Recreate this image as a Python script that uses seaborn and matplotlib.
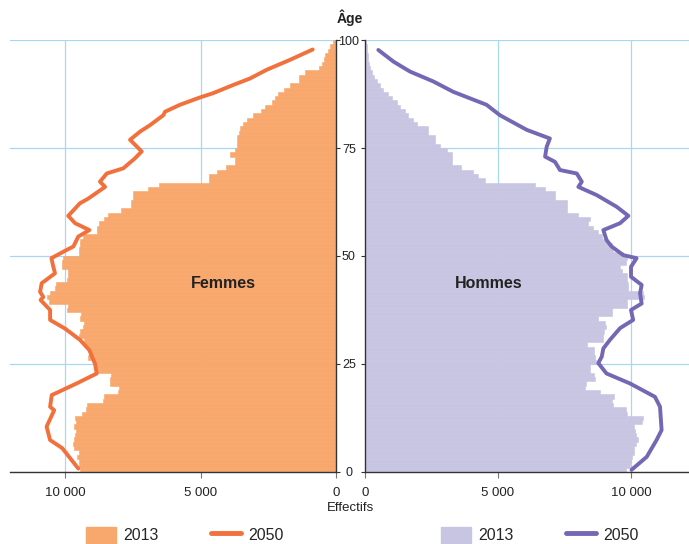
import numpy as np
import pandas as pd
import matplotlib.pyplot as plt
import seaborn as sns
from matplotlib.patches import Patch
from matplotlib.lines import Line2D

# population by age (thousands)
ages = list(range(100))

femmes_2013 = [9.45, 9.5, 9.48, 9.55, 9.5, 9.67, 9.7, 9.65, 9.63, 9.6,
               9.65, 9.6, 9.62, 9.38, 9.22, 9.2, 8.6, 8.55, 8.05, 8.0,
               8.34, 8.35, 8.3, 8.9, 8.85, 8.95, 9.14, 9.1, 9.15, 9.26,
               9.3, 9.5, 9.45, 9.32, 9.3, 9.45, 9.42, 9.94, 9.9, 10.6,
               10.65, 10.55, 10.37, 10.35, 9.94, 9.9, 9.88, 10.12, 10.1, 10.06,
               9.48, 9.5, 9.45, 9.45, 9.35, 8.83, 8.83, 8.73, 8.56, 8.4,
               7.95, 7.56, 7.56, 7.48, 7.48, 6.92, 6.52, 4.69, 4.69, 4.4,
               4.07, 3.73, 3.73, 3.91, 3.73, 3.67, 3.67, 3.64, 3.58, 3.54,
               3.42, 3.3, 3.05, 2.77, 2.62, 2.37, 2.24, 2.13, 1.92, 1.7,
               1.37, 1.37, 1.14, 0.62, 0.5, 0.45, 0.41, 0.3, 0.22, 0.12]

hommes_2013 = [9.8, 9.95, 10.0, 10.05, 10.1, 10.1, 10.2, 10.25, 10.2, 10.15,
               10.1, 10.4, 10.45, 9.84, 9.8, 9.34, 9.3, 9.35, 8.83, 8.27,
               8.3, 8.65, 8.6, 8.46, 8.45, 8.7, 8.65, 8.6, 8.62, 8.33,
               8.96, 8.95, 9.0, 9.05, 9.02, 8.77, 9.27, 9.3, 9.84, 9.85,
               10.5, 10.45, 9.9, 9.88, 9.86, 9.85, 9.65, 9.6, 9.8, 9.84,
               9.7, 9.34, 9.3, 9.08, 8.9, 8.77, 8.58, 8.4, 8.46, 8.02,
               7.58, 7.58, 7.58, 7.14, 7.14, 6.77, 6.39, 4.5, 4.26, 4.07,
               3.6, 3.26, 3.26, 3.26, 3.07, 2.82, 2.63, 2.63, 2.38, 2.38,
               1.94, 1.82, 1.63, 1.5, 1.32, 1.19, 1.0, 0.88, 0.69, 0.56,
               0.44, 0.35, 0.28, 0.19, 0.15, 0.12, 0.1, 0.08, 0.06, 0.04]

femmes_2050_age = [97.8, 95.4, 93.1, 91.1, 89.6, 87.7, 86.7, 85.0, 83.4, 82.6,
                   80.3, 78.8, 76.9, 74.2, 72.6, 70.3, 69.1, 67.2, 66.0, 63.3,
                   62.2, 59.3, 57.6, 56.0, 54.5, 52.2, 51.4, 49.5, 48.0, 46.0,
                   43.7, 41.7, 40.5, 39.8, 37.5, 35.2, 33.2, 30.6, 28.2, 25.0,
                   22.8, 20.5, 17.8, 15.1, 14.3, 10.5, 7.4, 5.5, 0.8]
femmes_2050 = [0.86, 1.7, 2.56, 3.17, 3.79, 4.53, 5.02, 5.76, 6.31, 6.37,
               6.86, 7.23, 7.6, 7.17, 7.42, 7.85, 8.46, 8.71, 8.52, 9.14,
               9.45, 9.88, 9.63, 9.1, 9.51, 9.69, 9.94, 10.5, 10.45, 10.37,
               10.86, 10.92, 10.8, 10.9, 10.55, 10.55, 10.0, 9.45, 9.1, 8.89,
               8.83, 9.57, 10.49, 10.55, 10.4, 10.68, 10.55, 10.1, 9.51]

hommes_2050_age = [97.7, 95.0, 92.7, 90.4, 88.0, 85.0, 82.6, 79.2, 77.2, 75.3,
                   73.0, 71.8, 69.9, 69.1, 67.2, 66.0, 64.1, 61.4, 59.3, 57.6,
                   56.0, 53.7, 52.2, 50.2, 49.5, 47.5, 45.2, 43.3, 41.4, 39.0,
                   37.5, 35.2, 33.3, 30.6, 28.6, 26.7, 25.2, 22.8, 20.5, 17.4,
                   15.1, 9.7, 7.4, 3.5, 0.5]
hommes_2050 = [0.5, 1.07, 1.69, 2.57, 3.32, 4.57, 5.07, 6.08, 6.95, 6.83,
               6.77, 7.14, 7.33, 7.96, 8.15, 8.02, 8.71, 9.46, 9.9, 9.59,
               8.96, 9.08, 9.27, 9.71, 10.21, 10.0, 10.0, 10.4, 10.34, 10.4,
               10.0, 10.08, 9.59, 9.21, 8.96, 8.9, 8.77, 9.08, 9.96, 10.9,
               11.09, 11.15, 10.96, 10.59, 10.02]

x_ticks = [0, 5000, 10000]
x_labels = ['0', '5 000', '10 000']
y_ticks = [0, 25, 50, 75, 100]

orange_bar = '#f8a76d'
orange_line = '#f2703b'
purple_bar = '#c8c5e2'
purple_line = '#7468b4'
grid_blue = '#a8d8f1'
dark = '#333333'

sns.set_theme(style='ticks')
plt.rcParams['font.family'] = ['Liberation Sans', 'DejaVu Sans']

fig = plt.figure(figsize=(6.89, 5.44), dpi=100)
ax_f = fig.add_axes([10/689, 72/544, 326/689, 432/544])
ax_h = fig.add_axes([365/689, 72/544, 324/689, 432/544])

df = pd.DataFrame({'age': np.array(ages, dtype=float) + 0.5,
                   'femmes': np.array(femmes_2013) * 1000,
                   'hommes': np.array(hommes_2013) * 1000})

for ax, col, bar_c, line_c, l_age, l_val in [
        (ax_f, 'femmes', orange_bar, orange_line, femmes_2050_age, femmes_2050),
        (ax_h, 'hommes', purple_bar, purple_line, hommes_2050_age, hommes_2050)]:
    sns.histplot(data=df, y='age', weights=col, binwidth=1, binrange=(0, 100),
                 ax=ax, color=bar_c, alpha=1, edgecolor=bar_c, linewidth=0.4)
    sns.lineplot(x=np.array(l_val) * 1000, y=l_age, sort=False, estimator=None,
                 ax=ax, color=line_c, lw=2.8, solid_capstyle='round',
                 solid_joinstyle='round')
    ax.set_ylim(0, 100)
    ax.set_xticks(x_ticks)
    ax.set_xticklabels(x_labels)
    ax.set_yticks(y_ticks)
    ax.set_xlabel('')
    ax.set_ylabel('')
    ax.set_axisbelow(True)
    ax.grid(True, color=grid_blue, lw=0.9)
    ax.tick_params(axis='x', length=4, width=0.8, color='#777777',
                   labelsize=9.5, labelcolor='#222222', pad=7)
    ax.tick_params(axis='y', length=3, width=0.8, color=dark,
                   labelsize=9, labelcolor='#222222')
    for s in ax.spines.values():
        s.set_color(dark)
        s.set_linewidth(1)

ax_f.set_xlim(12030, 0)
ax_h.set_xlim(0, 12180)

sns.despine(ax=ax_f, left=True, right=False)
sns.despine(ax=ax_h)
ax_f.yaxis.tick_right()
ax_f.set_yticklabels([])
ax_h.yaxis.tick_left()
ax_h.tick_params(axis='y', pad=8.6)
for lab in ax_h.get_yticklabels():
    lab.set_horizontalalignment('center')

ax_f.text(4170, 43.75, 'Femmes', ha='center', va='center',
          fontweight='bold', fontsize=11.5, color='#222222')
ax_h.text(4660, 43.75, 'Hommes', ha='center', va='center',
          fontweight='bold', fontsize=11.5, color='#222222')

fig.text(350/689, 1 - 18/544, 'Âge', ha='center', va='center',
         fontweight='bold', fontsize=10, color='#222222')
fig.text(350/689, 1 - 508/544, 'Effectifs', ha='center', va='center',
         fontsize=9.5, color='#222222')

leg_kw = dict(ncol=2, loc='center', frameon=False, fontsize=11.5,
              handlelength=1.88, handleheight=1.25, handletextpad=0.44,
              columnspacing=3.3, borderaxespad=0)
fig.legend(handles=[Patch(color=orange_bar),
                    Line2D([], [], color=orange_line, lw=3.5)],
           labels=['2013', '2050'], bbox_to_anchor=(185/689, 9/544), **leg_kw)
fig.legend(handles=[Patch(color=purple_bar),
                    Line2D([], [], color=purple_line, lw=3.5)],
           labels=['2013', '2050'], bbox_to_anchor=(540/689, 9/544), **leg_kw)

fig.savefig('out.png', dpi=100)
